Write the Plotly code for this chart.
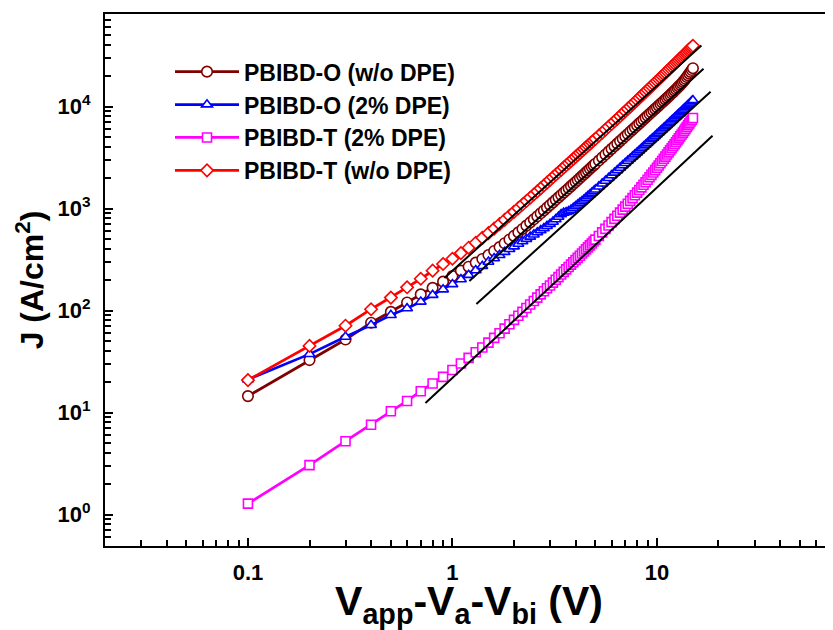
import math
import plotly.graph_objects as go

# ---------------- data ----------------
V = [0.1, 0.2, 0.3, 0.4, 0.5, 0.6, 0.7, 0.8, 0.9, 1.0,
     1.1, 1.2, 1.3, 1.4, 1.5, 1.6, 1.7, 1.8, 1.9, 2.0,
     2.1, 2.2, 2.3, 2.4, 2.5, 2.6, 2.7, 2.8, 2.9, 3.0,
     3.1, 3.2, 3.3, 3.4, 3.5, 3.6, 3.7, 3.8, 3.9, 4.0,
     4.1, 4.2, 4.3, 4.4, 4.5, 4.6, 4.7, 4.8, 4.9, 5.0,
     5.2, 5.4, 5.6, 5.8, 6.0, 6.2, 6.4, 6.6, 6.8, 7.0,
     7.2, 7.4, 7.6, 7.8, 8.0, 8.2, 8.4, 8.6, 8.8, 9.0,
     9.2, 9.4, 9.6, 9.8, 10.0, 10.2, 10.4, 10.6, 10.8, 11.0,
     11.2, 11.4, 11.6, 11.8, 12.0, 12.2, 12.4, 12.6, 12.8, 13.0,
     13.2, 13.4, 13.6, 13.8, 14.0, 14.2, 14.4, 14.6, 14.8, 15.0]

J_O_wo = [14.5, 32.7, 52, 76, 97, 120, 144, 167, 192, 218,
          246, 269, 295, 320, 350, 384, 419, 457, 497, 539,
          584, 631, 680, 731, 784, 840, 898, 958, 1020, 1084,
          1150, 1218, 1287, 1358, 1431, 1505, 1581, 1659, 1738, 1819,
          1904, 1991, 2080, 2170, 2262, 2356, 2452, 2549, 2648, 2749,
          2955, 3167, 3386, 3612, 3845, 4084, 4330, 4582, 4841, 5106,
          5378, 5656, 5941, 6231, 6528, 6832, 7141, 7457, 7779, 8107,
          8442, 8783, 9130, 9483, 9843, 10210, 10584, 10964, 11350, 11742,
          12145, 12556, 12975, 13403, 13843, 14297, 14765, 15249, 15752, 16273,
          16830, 17422, 18053, 18725, 19438, 20196, 21004, 21861, 22773, 23741]

J_O_dpe = [21.1, 37.4, 55.3, 72, 90.3, 105, 122, 142, 161, 181,
           202, 223, 248, 273, 300, 325, 350, 375, 400, 425,
           451, 477, 503, 529, 556, 583, 611, 641, 672, 705,
           741, 782, 829, 880, 906, 921, 941, 972, 1011, 1053,
           1093, 1135, 1179, 1225, 1273, 1322, 1372, 1424, 1477, 1532,
           1641, 1753, 1868, 1988, 2113, 2241, 2373, 2508, 2646, 2788,
           2933, 3081, 3233, 3388, 3546, 3709, 3875, 4045, 4218, 4394,
           4575, 4760, 4948, 5139, 5334, 5534, 5738, 5945, 6155, 6369,
           6589, 6812, 7038, 7268, 7501, 7740, 7983, 8230, 8480, 8734,
           8994, 9258, 9525, 9796, 10070, 10352, 10639, 10929, 11223, 11520]

J_T_dpe = [1.28, 3.05, 5.24, 7.6, 10.3, 13.0, 16.2, 19.3, 22.4, 26.1,
           30.3, 34.4, 39.0, 43.5, 48.5, 54.0, 60.0, 66.5, 73.5, 81.0,
           88.9, 97.1, 105.8, 114.8, 124.2, 133.9, 144, 154.4, 165.2, 176.3,
           188, 200.1, 212.7, 225.8, 239.3, 253.2, 267.5, 282.2, 297.2, 312.6,
           328.6, 345.1, 362.1, 379.6, 397.6, 416.1, 435.1, 454.7, 474.8, 495.5,
           538.7, 584.2, 632.2, 682.7, 735.8, 791.6, 850.2, 911.7, 976.2, 1044,
           1115, 1189, 1266, 1348, 1432, 1521, 1613, 1710, 1811, 1916,
           2025, 2139, 2258, 2382, 2511, 2645, 2783, 2927, 3076, 3229,
           3389, 3553, 3724, 3899, 4081, 4270, 4465, 4667, 4876, 5093,
           5319, 5552, 5792, 6042, 6301, 6568, 6844, 7130, 7426, 7731]

J_T_wo = [20.8, 45, 71, 103, 134, 169, 205, 246, 286, 322,
          366, 413, 462, 516, 574, 636, 703, 774, 849, 927,
          1009, 1095, 1184, 1277, 1373, 1473, 1577, 1684, 1794, 1907,
          2024, 2144, 2267, 2393, 2522, 2654, 2789, 2927, 3068, 3212,
          3360, 3511, 3665, 3822, 3982, 4144, 4309, 4477, 4648, 4822,
          5181, 5551, 5933, 6329, 6737, 7163, 7601, 8051, 8513, 8987,
          9481, 9987, 10506, 11038, 11582, 12145, 12721, 13309, 13909, 14522,
          15151, 15793, 16448, 17116, 17797, 18491, 19197, 19917, 20648, 21393,
          22154, 22927, 23713, 24512, 25323, 26156, 27003, 27864, 28739, 29624,
          30533, 31455, 32392, 33341, 34305, 35293, 36295, 37311, 38341, 39384]

# straight SCLC fit guides (end points)
fit_V = [[0.914, 16.5], [1.21, 16.9], [1.31, 18.3], [0.738, 18.7]]
fit_J = [[209, 39600], [195, 23500], [116, 13960], [12.4, 5160]]

series_names = ["PBIBD-O (w/o DPE)", "PBIBD-O (2% DPE)",
                "PBIBD-T (2% DPE)", "PBIBD-T (w/o DPE)"]
series_J = [J_O_wo, J_O_dpe, J_T_dpe, J_T_wo]

# ---------------- styles ----------------
colors = ["#800000", "#0000FF", "#FF00FF", "#FF0000"]
symbols = ["circle", "triangle-up", "square", "diamond"]
msizes = [10.5, 9.5, 9, 9.5]

FONT = "Liberation Sans, Arial, sans-serif"

fig = go.Figure()
for name, J, c, s, ms in zip(series_names, series_J, colors, symbols, msizes):
    fig.add_trace(go.Scatter(
        x=V, y=J, name=name, mode="lines+markers",
        line=dict(color=c, width=2.7),
        marker=dict(symbol=s, size=ms, color="white",
                    line=dict(color=c, width=1.6)),
    ))

for fx, fj in zip(fit_V, fit_J):
    fig.add_trace(go.Scatter(x=fx, y=fj, mode="lines", showlegend=False,
                             line=dict(color="black", width=2),
                             hoverinfo="skip"))

x_minor = [m * 10 ** k for k in range(-2, 2) for m in range(2, 10)]
y_minor = [m * 10 ** k for k in range(-1, 5) for m in range(2, 10)]

# the page body keeps an 8px margin, so the figure is 8px smaller
fig.update_layout(
    width=825, height=622,
    margin=dict(l=97, r=0, t=6, b=84),
    paper_bgcolor="white", plot_bgcolor="white",
    font=dict(family=FONT, color="black"),
    showlegend=True,
    legend=dict(x=0.0893, y=0.932, xanchor="left", yanchor="top",
                bgcolor="rgba(0,0,0,0)", borderwidth=0,
                font=dict(family=FONT, size=23, weight="bold"),
                itemwidth=64, tracegroupgap=0),
    xaxis=dict(
        type="log", range=[math.log10(0.02), 1.861],
        showgrid=False, zeroline=False,
        showline=True, linecolor="black", linewidth=2, mirror=True,
        ticks="inside", ticklen=8, tickwidth=1.5, tickcolor="black",
        tickmode="array", tickvals=[0.1, 1, 10], ticktext=["0.1", "1", "10"],
        tickfont=dict(family=FONT, size=22, weight="bold"),
        ticklabelstandoff=6,
        minor=dict(tickmode="array", tickvals=x_minor, ticks="inside",
                   ticklen=6, tickwidth=1.5, tickcolor="black", showgrid=False),
        title=dict(text="V<sub>app</sub>-V<sub>a</sub>-V<sub>bi</sub> (V)",
                   font=dict(family=FONT, size=41, weight="bold"), standoff=5),
    ),
    yaxis=dict(
        type="log", range=[-0.308, 4.907],
        showgrid=False, zeroline=False,
        showline=True, linecolor="black", linewidth=2, mirror=False,
        ticks="inside", ticklen=8, tickwidth=1.5, tickcolor="black",
        tickmode="array", tickvals=[1, 10, 100, 1000, 10000],
        ticktext=["10<sup>0</sup>", "10<sup>1</sup>", "10<sup>2</sup>",
                  "10<sup>3</sup>", "10<sup>4</sup>"],
        tickfont=dict(family=FONT, size=22, weight="bold"),
        ticklabelstandoff=8,
        minor=dict(tickmode="array", tickvals=y_minor, ticks="inside",
                   ticklen=6, tickwidth=1.5, tickcolor="black", showgrid=False),
        title=dict(text="J (A/cm<sup>2</sup>)",
                   font=dict(family=FONT, size=32, weight="bold"), standoff=4),
    ),
)

fig.write_html("out.html")
